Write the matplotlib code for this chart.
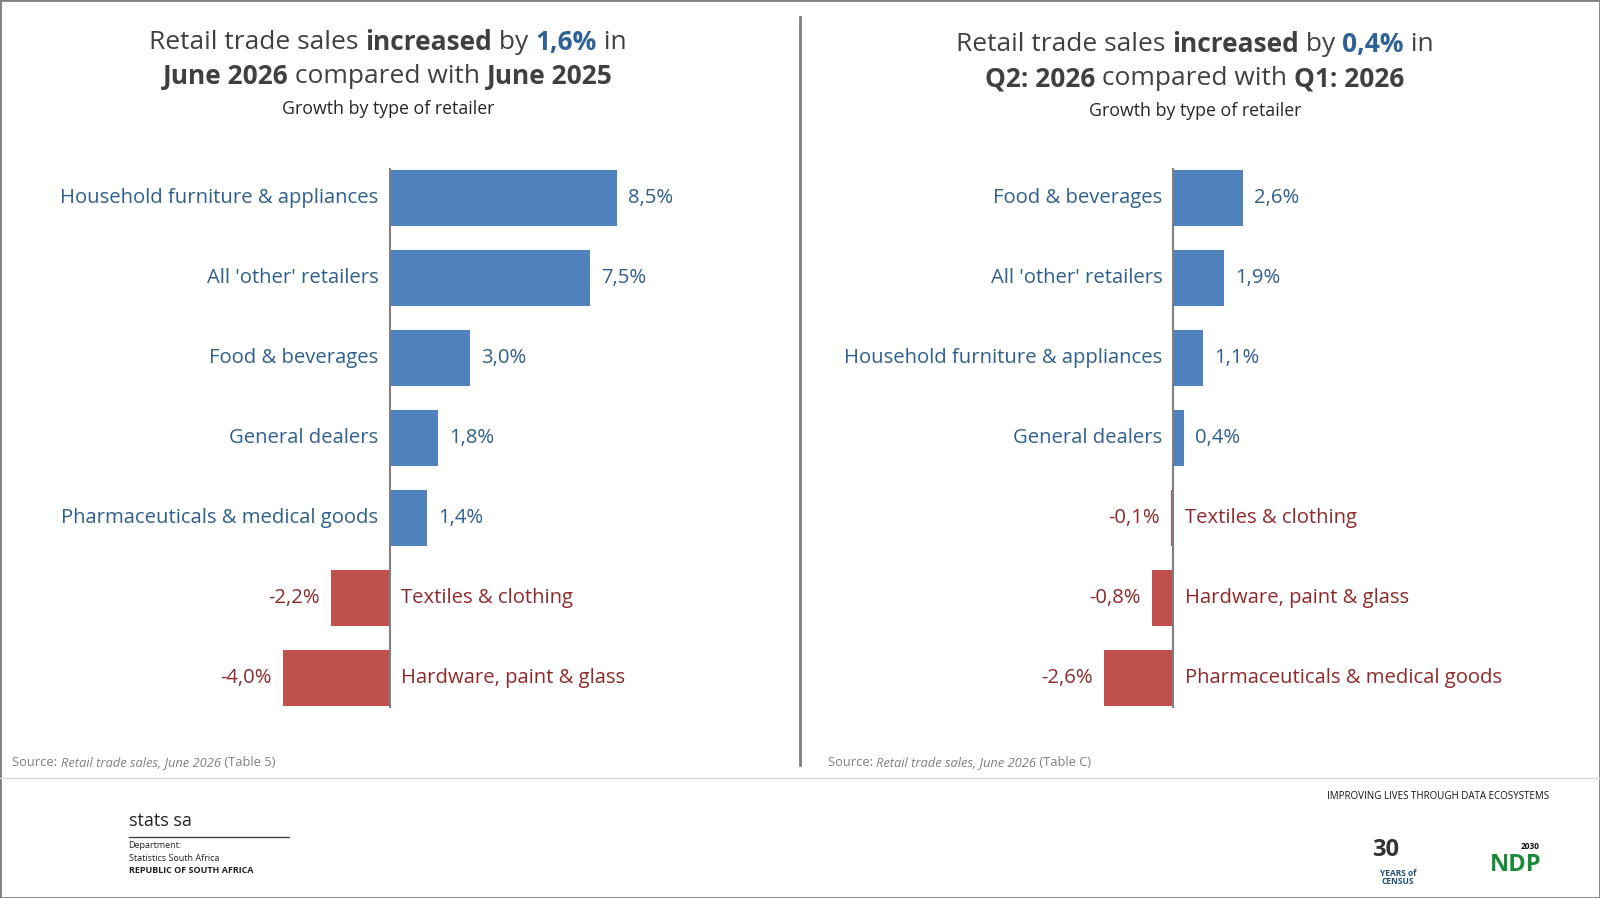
import matplotlib.pyplot as plt
from matplotlib.lines import Line2D

plt.rcParams['font.family'] = ['Open Sans', 'DejaVu Sans']

left_cats = ["Household furniture & appliances", "All 'other' retailers", "Food & beverages",
             "General dealers", "Pharmaceuticals & medical goods", "Textiles & clothing",
             "Hardware, paint & glass"]
left_vals = [8.5, 7.5, 3.0, 1.8, 1.4, -2.2, -4.0]
right_cats = ["Food & beverages", "All 'other' retailers", "Household furniture & appliances",
              "General dealers", "Textiles & clothing", "Hardware, paint & glass",
              "Pharmaceuticals & medical goods"]
right_vals = [2.6, 1.9, 1.1, 0.4, -0.1, -0.8, -2.6]

BLUE = '#4f81bd'
RED = '#c0504d'
BLUE_TXT = '#2f5f8f'
RED_TXT = '#8e2a2a'
GREY_TXT = '#404040'
W, H = 1568, 880


def fx(x):
    return x / W


def fy(y):
    return 1 - y / H


def fmt(v):
    return ("%.1f%%" % v).replace('.', ',')


def rich_line(fig, xc, y, parts, size):
    # parts: list of (text, bold, colour); draws them centred on xc
    r = fig.canvas.get_renderer()
    texts = []
    for s, b, c in parts:
        t = fig.text(0, y, s, fontsize=size, fontweight='bold' if b else 'normal',
                     color=c, va='center', ha='left')
        texts.append(t)
    widths = [t.get_window_extent(r).width / fig.bbox.width for t in texts]
    x = xc - sum(widths) / 2
    for t, w in zip(texts, widths):
        t.set_x(x)
        x += w


def bar_panel(fig, x0, x1, zero_px, cats, vals):
    ax = fig.add_axes([fx(x0), fy(704), fx(x1 - x0), fy(155) - fy(704)])
    scale = 26.15
    ax.set_xlim(-(zero_px - x0) / scale, (x1 - zero_px) / scale)
    ax.set_ylim(6.5, -0.5)
    ax.axis('off')
    ys = list(range(len(vals)))
    cols = [BLUE if v >= 0 else RED for v in vals]
    ax.barh(ys, vals, height=0.7, color=cols)
    ax.plot([0, 0], [-0.36, 6.36], color='#7f7f7f', lw=1.5)
    for y, c, v in zip(ys, cats, vals):
        off = 0.42
        if v >= 0:
            ax.text(-off, y, c, ha='right', va='center', fontsize=14.6, color=BLUE_TXT)
            ax.text(v + off, y, fmt(v), ha='left', va='center', fontsize=14.6, color=BLUE_TXT)
        else:
            ax.text(off, y, c, ha='left', va='center', fontsize=14.6, color=RED_TXT)
            ax.text(v - off, y, fmt(v), ha='right', va='center', fontsize=14.6, color=RED_TXT)
    return ax


fig = plt.figure(figsize=(16, 8.98), dpi=100)
fig.canvas.draw()

bar_panel(fig, 0, 784, 382, left_cats, left_vals)
bar_panel(fig, 784, 1568, 1150, right_cats, right_vals)

rich_line(fig, fx(380), fy(42), [("Retail trade sales ", False, GREY_TXT), ("increased", True, GREY_TXT),
                                  (" by ", False, GREY_TXT), ("1,6%", True, '#2e6299'), (" in", False, GREY_TXT)], 19)
rich_line(fig, fx(380), fy(75), [("June 2026", True, GREY_TXT), (" compared with ", False, GREY_TXT),
                                  ("June 2025", True, GREY_TXT)], 19)
fig.text(fx(380), fy(107), "Growth by type of retailer", ha='center', va='center', fontsize=12.8, color='#262626')

rich_line(fig, fx(1171), fy(44), [("Retail trade sales ", False, GREY_TXT), ("increased", True, GREY_TXT),
                                   (" by ", False, GREY_TXT), ("0,4%", True, '#2e6299'), (" in", False, GREY_TXT)], 19)
rich_line(fig, fx(1171), fy(77), [("Q2: 2026", True, GREY_TXT), (" compared with ", False, GREY_TXT),
                                   ("Q1: 2026", True, GREY_TXT)], 19)
fig.text(fx(1171), fy(109), "Growth by type of retailer", ha='center', va='center', fontsize=12.8, color='#262626')

# sources
r = fig.canvas.get_renderer()
for x, tab in [(12, "(Table 5)"), (811, "(Table C)")]:
    parts = [("Source: ", 'normal'), ("Retail trade sales, June 2026", 'italic'), (" " + tab, 'normal')]
    xx = fx(x)
    for s, st in parts:
        t = fig.text(xx, fy(747), s, fontsize=9.3, style=st, color='#7f7f7f', va='center')
        xx += t.get_window_extent(r).width / fig.bbox.width

# divider lines and frame
fig.add_artist(Line2D([fx(784), fx(784)], [fy(17), fy(750)], color='#7f7f7f', lw=2))
fig.add_artist(Line2D([0, 1], [fy(762), fy(762)], color='#d9d9d9', lw=1))
fig.add_artist(plt.Rectangle((0, 0), 1, 1, fill=False, ec='#7f7f7f', lw=2, transform=fig.transFigure))

# footer
fig.text(fx(126), fy(805), "stats sa", fontsize=13, color='#222222', va='center')
fig.add_artist(Line2D([fx(126), fx(283)], [fy(820), fy(820)], color='#444444', lw=1))
fig.text(fx(126), fy(829), "Department:", fontsize=6.5, color='#222222', va='center')
fig.text(fx(126), fy(841), "Statistics South Africa", fontsize=6.5, color='#222222', va='center')
fig.text(fx(126), fy(853), "REPUBLIC OF SOUTH AFRICA", fontsize=6.5, fontweight='bold', color='#222222', va='center')
fig.text(fx(1518), fy(781), "IMPROVING LIVES THROUGH DATA ECOSYSTEMS", fontsize=7, color='#111111',
         ha='right', va='center')
fig.text(fx(1358), fy(833), "30", fontsize=17, fontweight='bold', color='#333333', ha='center', va='center')
fig.text(fx(1370), fy(860), "YEARS of\nCENSUS", fontsize=6, fontweight='bold', color='#1f4e79',
         ha='center', va='center', linespacing=0.9)
fig.text(fx(1485), fy(848), "NDP", fontsize=17, fontweight='bold', color='#1a8a3a', ha='center', va='center')
fig.text(fx(1500), fy(830), "2030", fontsize=6, fontweight='bold', color='#111111', ha='center', va='center')

fig.savefig('out.png', dpi=100)
